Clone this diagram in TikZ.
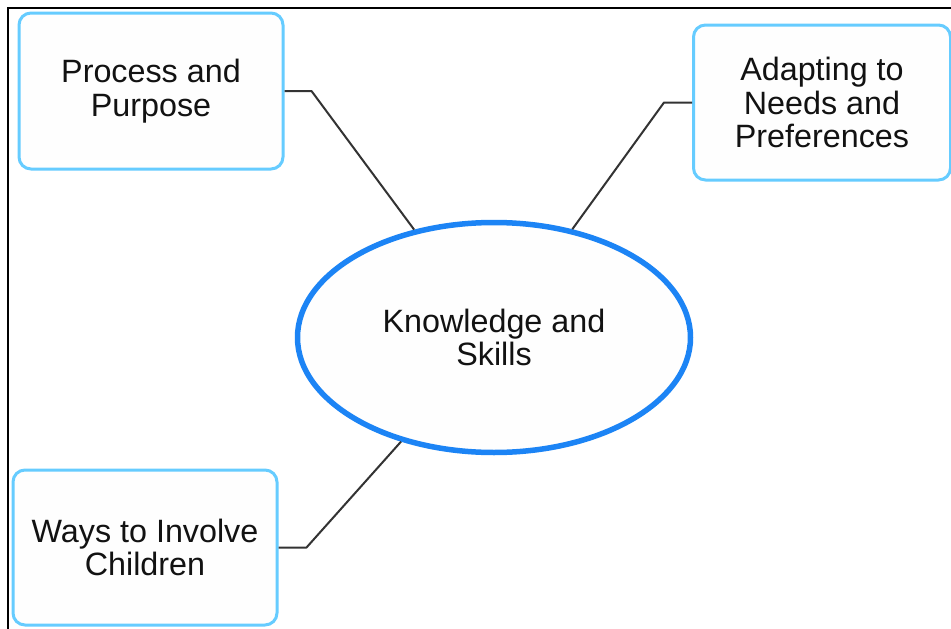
\documentclass[tikz,border=0pt]{standalone}
\usepackage{fontspec}
\setmainfont{Liberation Sans}
\usetikzlibrary{shapes.geometric}
\definecolor{boxblue}{RGB}{102,204,255}
\definecolor{ellblue}{RGB}{28,132,245}
\definecolor{linegray}{RGB}{51,51,51}
\definecolor{fillw}{RGB}{254,254,254}
\tikzset{
  topic/.style={draw=boxblue, line width=3pt, rounded corners=12pt, fill=fillw,
    minimum width=#1, align=center, inner sep=0pt, text=black!93,
    font=\fontsize{32.3}{33.5}\selectfont},
  hub/.style={draw=ellblue, line width=5.5pt, ellipse, fill=fillw,
    minimum width=393pt, minimum height=230pt, align=center, inner sep=0pt,
    text=black!93, font=\fontsize{32.3}{33}\selectfont},
  link/.style={draw=linegray, line width=2pt, line join=round}
}
\begin{document}
\begin{tikzpicture}[x=1pt,y=1pt]
\useasboundingbox (0,0) rectangle (951,-629);
\fill[white] (0,0) rectangle (951,-629);
\coordinate (fbl) at (8,-629);
\coordinate (ftl) at (8,-8);
\coordinate (ftr) at (951,-8);
\draw[line width=2pt, black] (fbl) -- (ftl) -- (ftr);

\node[hub] (k) at (494,-337.5) {Knowledge and\\Skills};

\node[topic=264pt, minimum height=156pt] (p) at (151,-91) {Process and\\Purpose};
\node[topic=257pt, minimum height=155pt] (a) at (822,-102.5) {Adapting to\\Needs and\\Preferences};
\node[topic=264pt, minimum height=155pt] (w) at (145,-547.5) {Ways to Involve\\Children};

\draw[link] (p.east) -- ++(27,0) -- (k);
\draw[link] (a.west) -- ++(-28,0) -- (k);
\draw[link] (w.east) -- ++(28,0) -- (k);
\end{tikzpicture}
\end{document}
